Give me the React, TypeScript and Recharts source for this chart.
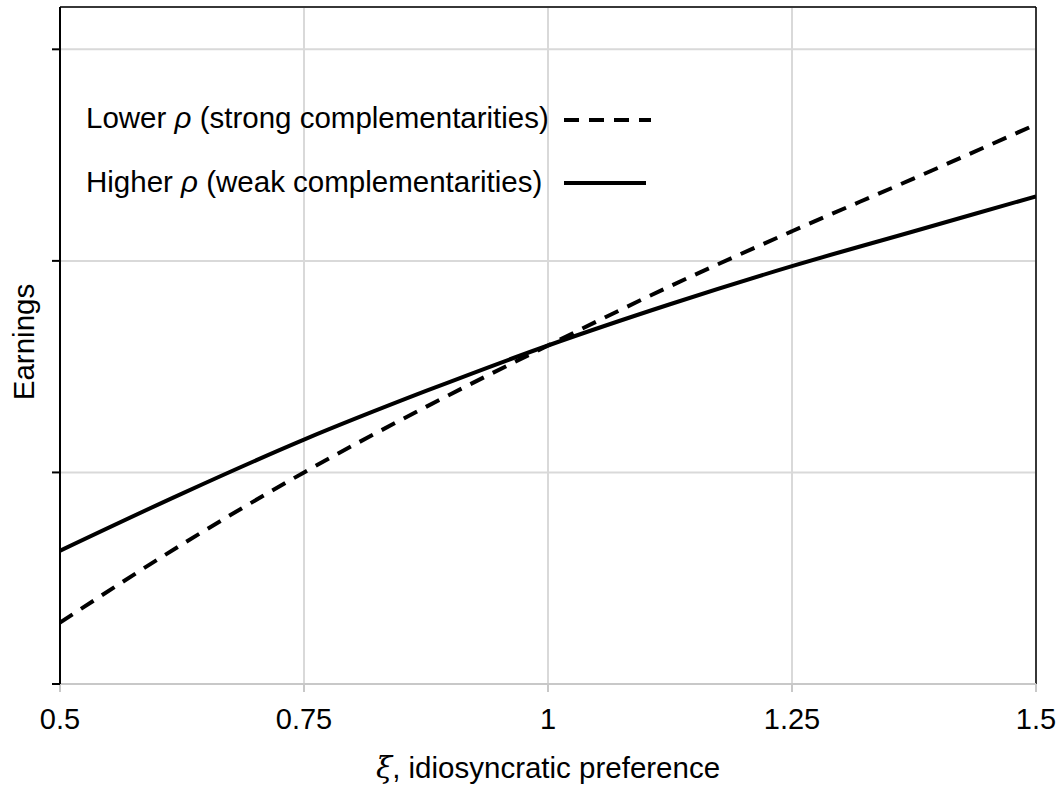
import {
  CartesianGrid,
  Line,
  LineChart,
  ReferenceLine,
  XAxis,
  YAxis,
} from 'recharts'

// idiosyncratic preference (x) and earnings (arbitrary units, gridline = 1)
const xi = [0.5, 0.625, 0.75, 0.875, 1.0, 1.125, 1.25, 1.375, 1.5]
const lowerRho = [0.29, 0.66, 1.0, 1.31, 1.6, 1.88, 2.14, 2.39, 2.645]
const higherRho = [0.63, 0.9, 1.155, 1.385, 1.6, 1.795, 1.975, 2.14, 2.305]

const xTicks = [0.5, 0.75, 1, 1.25, 1.5]
const yTicks = [0, 1, 2, 3]

const W = 1062
const H = 796
const FONT = '"Liberation Sans", Arial, sans-serif'

const data = xi.map((x, i) => ({ x, lower: lowerRho[i], higher: higherRho[i] }))

export default function App() {
  return (
    <div style={{ position: 'absolute', left: 0, top: 0, width: W, height: H, background: '#fff' }}>
      <LineChart
        width={W}
        height={H}
        data={data}
        margin={{ top: 7, right: 26, bottom: 0, left: 0 }}
        style={{ fontFamily: FONT }}
      >
        <CartesianGrid stroke="#d9d9d9" strokeWidth={2} />
        <XAxis
          dataKey="x"
          type="number"
          domain={[0.5, 1.5]}
          ticks={xTicks}
          height={112}
          stroke="#c8c8c8"
          strokeWidth={2}
          tickSize={8}
          tickMargin={16}
          interval={0}
          tick={{ fill: '#000', fontSize: 29 }}
          allowDataOverflow
        />
        <YAxis
          type="number"
          domain={[0, 3.2]}
          ticks={yTicks}
          width={60}
          stroke="#000"
          strokeWidth={2}
          tickSize={8}
          interval={0}
          tickLine={{ stroke: '#000', strokeWidth: 2 }}
          tick={{ fill: 'transparent', fontSize: 10 }}
          allowDataOverflow
        />
        <ReferenceLine y={3.2} stroke="#000" strokeWidth={1.5} />
        <ReferenceLine x={1.5} stroke="#000" strokeWidth={1.5} />
        <Line
          dataKey="lower"
          type="monotone"
          stroke="#000"
          strokeWidth={4}
          strokeDasharray="15 10"
          dot={false}
          isAnimationActive={false}
        />
        <Line
          dataKey="higher"
          type="monotone"
          stroke="#000"
          strokeWidth={4}
          dot={false}
          isAnimationActive={false}
        />
      </LineChart>
      <svg
        width={W}
        height={H}
        style={{ position: 'absolute', left: 0, top: 0, pointerEvents: 'none', fontFamily: FONT }}
      >
        <text x={86} y={128} fontSize={29.5} fill="#000">
          Lower <tspan fontStyle="italic">ρ</tspan> (strong complementarities)
        </text>
        <line x1={564} x2={651} y1={120} y2={120} stroke="#000" strokeWidth={4} strokeDasharray="15 10" />
        <text x={86} y={192} fontSize={29.5} fill="#000">
          Higher <tspan fontStyle="italic">ρ</tspan> (weak complementarities)
        </text>
        <line x1={564} x2={646} y1={183} y2={183} stroke="#000" strokeWidth={4} />
        <text
          transform="translate(34 342) rotate(-90)"
          textAnchor="middle"
          fontSize={29.5}
          fill="#000"
        >
          Earnings
        </text>
        <text x={548} y={778} textAnchor="middle" fontSize={29.5} fill="#000">
          <tspan fontStyle="italic" fontFamily='"DejaVu Serif", serif'>ξ</tspan>, idiosyncratic preference
        </text>
      </svg>
    </div>
  )
}
